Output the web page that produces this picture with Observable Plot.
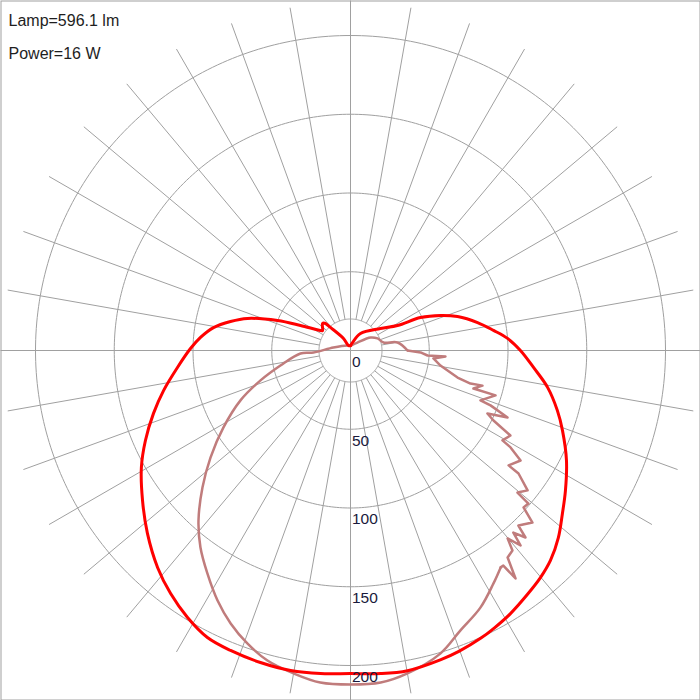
<!DOCTYPE html>
<html><head><meta charset="utf-8">
<script src="https://cdn.jsdelivr.net/npm/d3@7"></script>
<script src="https://cdn.jsdelivr.net/npm/@observablehq/plot@0.6"></script>
<style>body{margin:0;background:#fff}</style>
</head><body><div id="chart"></div>
<script>
// Info texts
const infoLines = ["Lamp=596.1 lm", "Power=16 W"];
// Radial grid
const ringValues = [50, 100, 150, 200];
const innerRing = 20;
const labelValues = [0, 50, 100, 150, 200];
const labelTexts = ["0", "50", "100", "150", "200"];
const spokeStep = 10;

// C0-C180 plane (bright red): angle from nadir (deg, + = right side), intensity
const redAngles = [-180, -158, -149.7, -139, -137.2, -134, -125.5, -123.7, -116.6, -112.3, -107.3, -103.6, -99.5, -95, -90.7, -84.4, -77.9, -72.3, -66.3, -60.8, -54.2, -48, -41.6, -36.5, -31.4, -26.5, -21.8, -16.1, -10.6, -5.3, 0, 5.3, 10.1, 16.3, 19.9, 24.4, 27.3, 31.3, 36.1, 39.9, 43.6, 48, 52.4, 56.9, 63, 69.3, 73.8, 79.4, 84.7, 90, 94.4, 98, 102.4, 107.6, 111.3, 115.2, 118, 126.3, 149.5, 166, 180];
const redValues = [3, 3.4, 8.8, 19.4, 23.4, 24.7, 21.8, 22.9, 35.5, 50.1, 68.5, 78.4, 88.2, 95.6, 101.6, 110.4, 121.4, 131.3, 142.2, 152.1, 162.8, 173.5, 184.4, 192, 198.6, 203.6, 205.1, 206.2, 206.7, 206, 205.1, 206, 206.5, 204.5, 203, 200.5, 198.5, 195.5, 191.2, 188, 184.1, 177.6, 169.8, 162.9, 153.9, 143.9, 136.8, 127.3, 116.7, 107.9, 100, 91.7, 82.6, 71.3, 61.3, 49.1, 33.8, 23.6, 12.5, 5.2, 3];

// C90-C270 plane (rose)
const roseAngles = [-180, -149, -100, -86.9, -86.6, -77.9, -71.6, -65.6, -58.8, -52.6, -47.2, -41.8, -37.3, -32.7, -28, -23.7, -19.4, -15, -10, -5.2, 0, 5.2, 10, 16.5, 21.4, 26.8, 31.5, 34.7, 35.4, 35.9, 37.2, 39, 39.9, 41.1, 41.8, 43.1, 43.8, 46.6, 47.8, 49.3, 49.6, 51.7, 53.8, 54, 57.1, 58.8, 59.4, 62, 63.9, 65.3, 66.9, 68.6, 69, 72.8, 72.8, 75.1, 74.6, 75.8, 80.5, 84.5, 86.4, 86.3, 88.4, 90, 99.7, 103.6, 114, 123, 138.8, 180];
const roseValues = [3, 3.7, 11, 23.5, 31.8, 45.5, 60.2, 76.7, 94.3, 111.9, 128.1, 144.8, 157.2, 168.2, 179.8, 189.3, 197.2, 203.8, 208.2, 211.7, 212.1, 211.7, 208.2, 200.7, 191, 182.9, 173.6, 167.5, 167.5, 178.7, 165, 163.4, 155.5, 164.3, 155.1, 162.6, 154, 159, 148.3, 149, 139.2, 143.3, 132.2, 124.1, 128.6, 118.8, 112.1, 115, 101.1, 95.7, 108.4, 95.5, 88.4, 96.4, 81.7, 86.7, 79, 70.1, 57.9, 52.9, 60.4, 49, 44.5, 36.2, 30.3, 21.6, 18.8, 15.2, 6.7, 3];
// the noisy stretch of the rose curve lies between these angles
const roseNoisyFrom = 34.7, roseNoisyTo = 90;

const R = 350 / 1.575;           // half extent of the plot in intensity units
const rad = a => a * Math.PI / 180;
const px = d => d.v * Math.sin(rad(d.a));
const py = d => d.v * Math.cos(rad(d.a));

const red = redAngles.map((a, i) => ({a, v: redValues[i]}));
const rose = roseAngles.map((a, i) => ({a, v: roseValues[i]}));
const iFrom = roseAngles.indexOf(roseNoisyFrom), iTo = roseAngles.indexOf(roseNoisyTo);
const roseSmoothA = rose.slice(0, iFrom + 1);
const roseNoisy = rose.slice(iFrom, iTo + 1);
const roseSmoothB = rose.slice(iTo);

const rings = [innerRing, ...ringValues].flatMap(r => d3.range(0, 361, 1).map(a => ({a, v: r, r})));
const spokes = d3.range(0, 360, spokeStep).map(a => {
  const axis = a % 90 === 0;
  return {a, r0: axis ? 0 : innerRing, r1: axis ? R : 221};
});
const labels = labelValues.map((v, i) => ({v, t: labelTexts[i]}));
const roseStyle = {x: px, y: py, stroke: "#c07c7c", strokeWidth: 2.5, strokeLinejoin: "round", strokeLinecap: "round"};

const chart = Plot.plot({
  width: 700, height: 700,
  margin: 0,
  style: {background: "#fff", fontFamily: "'Liberation Sans', Arial, sans-serif"},
  x: {domain: [-R, R], range: [0, 700], axis: null},
  y: {domain: [-R, R], range: [0, 700], axis: null},
  marks: [
    Plot.line(rings, {x: px, y: py, z: "r", stroke: "#a0a0a0", strokeWidth: 1}),
    Plot.link(spokes, {
      x1: d => d.r0 * Math.sin(rad(d.a)), y1: d => d.r0 * Math.cos(rad(d.a)),
      x2: d => d.r1 * Math.sin(rad(d.a)), y2: d => d.r1 * Math.cos(rad(d.a)),
      stroke: "#a0a0a0", strokeWidth: 1
    }),
    Plot.line(roseSmoothA, {...roseStyle, curve: "catmull-rom"}),
    Plot.line(roseNoisy, {...roseStyle, curve: "linear"}),
    Plot.line(roseSmoothB, {...roseStyle, curve: "catmull-rom"}),
    Plot.line(red, {x: px, y: py, stroke: "#ff0000", strokeWidth: 3, strokeLinejoin: "round", curve: "catmull-rom"}),
    Plot.text(labels, {x: 0, y: d => d.v, text: d => d.t, dx: 1.5, dy: 11.5, textAnchor: "start", fontSize: 15.5, fill: "#1a1a3c"}),
    Plot.text([infoLines[0]], {frameAnchor: "top-left", dx: 8, dy: 25.5, lineAnchor: "bottom", textAnchor: "start", fontSize: 16, fill: "#1e1e1e"}),
    Plot.text([infoLines[1]], {frameAnchor: "top-left", dx: 8, dy: 58.7, lineAnchor: "bottom", textAnchor: "start", fontSize: 16, fill: "#1e1e1e"}),
    Plot.frame({stroke: "#a0a0a0", inset: 0.5})
  ]
});
document.getElementById("chart").appendChild(chart);
</script>
</body></html>
